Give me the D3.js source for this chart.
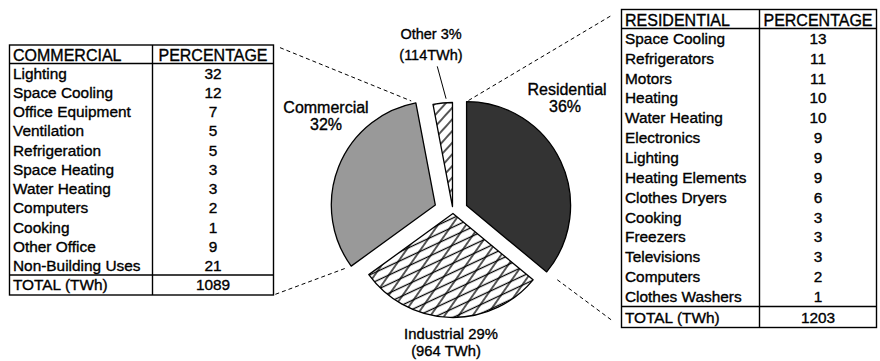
<!DOCTYPE html>
<html><head><meta charset="utf-8">
<script src="https://cdn.jsdelivr.net/npm/d3@7"></script>
<style>body{margin:0;background:#fff}svg{display:block;font-family:"Liberation Sans",Arial,Helvetica,sans-serif}
text{fill:#000;stroke:#000;stroke-width:0.35px}</style>
</head><body><svg id="c" width="880" height="361"></svg>
<script>
// ---------- data ----------
const sectors = ["Residential", "Industrial", "Commercial", "Other"];
const sectorShares = [36, 29, 32, 3];
const industrialTWh = 964;
const otherTWh = 114;

const commercialUses = ["Lighting", "Space Cooling", "Office Equipment", "Ventilation", "Refrigeration",
  "Space Heating", "Water Heating", "Computers", "Cooking", "Other Office", "Non-Building Uses"];
const commercialPct = [32, 12, 7, 5, 5, 3, 3, 2, 1, 9, 21];
const commercialTotal = 1089;

const residentialUses = ["Space Cooling", "Refrigerators", "Motors", "Heating", "Water Heating", "Electronics",
  "Lighting", "Heating Elements", "Clothes Dryers", "Cooking", "Freezers", "Televisions", "Computers", "Clothes Washers"];
const residentialPct = [13, 11, 11, 10, 10, 9, 9, 9, 6, 3, 3, 3, 2, 1];
const residentialTotal = 1203;

// ---------- layout / style ----------
const svg = d3.select("#c");
const C = [453, 212], R = 104;
const explode = [15, 1.5, 19, 5.5];
const baseFill = ["#333333", "#ffffff", "#999999", "#ffffff"];
const hatch = [[], ["indA", "indB"], [], ["othA"]];

const defs = svg.append("defs");
function linePattern(id, spacing, angle, w) {
  const p = defs.append("pattern").attr("id", id).attr("patternUnits", "userSpaceOnUse")
    .attr("width", 20).attr("height", spacing).attr("patternTransform", `rotate(${angle})`);
  p.append("line").attr("x1", -1).attr("x2", 21).attr("y1", spacing / 2).attr("y2", spacing / 2)
    .attr("stroke", "#000").attr("stroke-width", w);
}
linePattern("indA", 8.2, -25, 1.3);
linePattern("indB", 11.5, -55, 1.3);
linePattern("othA", 7.8, -48, 1.3);

const pie = d3.pie().sort(null).value(d => d);
const arcs = pie(sectorShares);
const arcGen = d3.arc().innerRadius(0).outerRadius(R);
function apex(i) {
  const a = arcs[i], m = (a.startAngle + a.endAngle) / 2;
  return [C[0] + explode[i] * Math.sin(m), C[1] - explode[i] * Math.cos(m)];
}
function pt(i, ang, rad) {
  const p = apex(i);
  return [p[0] + rad * Math.sin(ang), p[1] - rad * Math.cos(ang)];
}

const pieG = svg.append("g");
arcs.forEach((a, i) => {
  const g = pieG.append("g").attr("transform", `translate(${apex(i)})`);
  g.append("path").attr("d", arcGen(a)).attr("fill", baseFill[i]);
  hatch[i].forEach(h => g.append("path").attr("d", arcGen(a)).attr("fill", `url(#${h})`));
  g.append("path").attr("d", arcGen(a)).attr("fill", "none").attr("stroke", "#000")
    .attr("stroke-width", 1.3).attr("stroke-linejoin", "round");
});

// ---------- tables ----------
function drawTable(o) {
  const g = svg.append("g");
  const n = o.items.length;
  const rowH = (o.totalLine - o.headLine) / n;
  const vx = (o.xDiv + o.x1) / 2;
  const lw = 1.4;
  g.append("rect").attr("x", o.x0).attr("y", o.top).attr("width", o.x1 - o.x0).attr("height", o.bottom - o.top)
    .attr("fill", "#fff").attr("stroke", "#000").attr("stroke-width", lw);
  g.append("line").attr("x1", o.xDiv).attr("x2", o.xDiv).attr("y1", o.top).attr("y2", o.bottom)
    .attr("stroke", "#000").attr("stroke-width", lw);
  [o.headLine, o.totalLine].forEach(y => g.append("line").attr("x1", o.x0).attr("x2", o.x1)
    .attr("y1", y).attr("y2", y).attr("stroke", "#000").attr("stroke-width", lw));
  const fs = "15.4px";
  g.append("text").attr("x", o.x0 + 3.5).attr("y", o.headLine - o.headOff).attr("font-size", "16px").text(o.title);
  g.append("text").attr("x", vx).attr("y", o.headLine - o.headOff).attr("font-size", "16px")
    .attr("text-anchor", "middle").text("PERCENTAGE");
  o.items.forEach((t, k) => {
    const yb = o.headLine + rowH * (k + 1) - o.off;
    g.append("text").attr("x", o.x0 + 3.5).attr("y", yb).attr("font-size", fs).text(t);
    g.append("text").attr("x", vx).attr("y", yb).attr("font-size", fs).attr("text-anchor", "middle").text(o.values[k]);
  });
  const yt = o.bottom - o.totalOff;
  g.append("text").attr("x", o.x0 + 3.5).attr("y", yt).attr("font-size", fs).text("TOTAL (TWh)");
  g.append("text").attr("x", vx).attr("y", yt).attr("font-size", fs).attr("text-anchor", "middle").text(o.total);
}
const comT = { x0: 9.5, x1: 273.5, xDiv: 152.5, top: 45, headLine: 63.5, totalLine: 275, bottom: 295,
  title: "COMMERCIAL", items: commercialUses, values: commercialPct, total: commercialTotal, headOff: 2.8, off: 4, totalOff: 5.5 };
const resT = { x0: 621.5, x1: 876.5, xDiv: 759.5, top: 9.5, headLine: 28.5, totalLine: 306.5, bottom: 327.5,
  title: "RESIDENTIAL", items: residentialUses, values: residentialPct, total: residentialTotal, headOff: 3, off: 4.5, totalOff: 5 };
drawTable(comT);
drawTable(resT);

// ---------- dashed connectors ----------
function dashed(p, q, trimP, trimQ) {
  const dx = q[0] - p[0], dy = q[1] - p[1], L = Math.hypot(dx, dy);
  const ux = dx / L, uy = dy / L;
  svg.append("line").attr("x1", p[0] + ux * trimP).attr("y1", p[1] + uy * trimP)
    .attr("x2", q[0] - ux * trimQ).attr("y2", q[1] - uy * trimQ)
    .attr("stroke", "#000").attr("stroke-width", 1).attr("stroke-dasharray", "4,3");
}
const aC = arcs[2], aR = arcs[0];
dashed([comT.x1, comT.top], pt(2, aC.endAngle, R), 7, 5);
dashed([comT.x1, comT.bottom], pt(2, aC.startAngle, R), 2, 4);
dashed([resT.x0, resT.top], pt(0, aR.startAngle, R), 13, 0);
dashed([resT.x0, resT.bottom], pt(0, aR.endAngle, R), 13, 13);

// ---------- labels ----------
function label(lines, x, size) {
  lines.forEach(([t, y, dx]) => svg.append("text").attr("x", x + (dx || 0)).attr("y", y)
    .attr("font-size", size).attr("text-anchor", "middle").text(t));
}
label([[sectors[2], 113], [sectorShares[2] + "%", 130]], 326, "16px");
label([[sectors[0], 95], [sectorShares[0] + "%", 112, -2]], 567, "16px");
label([[`${sectors[3]} ${sectorShares[3]}%`, 38.5], [`(${otherTWh}TWh)`, 59.5]], 431, "14.5px");
label([[`${sectors[1]} ${sectorShares[1]}%`, 338.7], [`(${industrialTWh} TWh)`, 355.5, -5]], 451, "14.8px");

// leader for Other
const deg = Math.PI / 180;
const l1 = pt(3, 353.8 * deg, 141), l2 = pt(3, 356.6 * deg, 108);
svg.append("line").attr("x1", l1[0]).attr("y1", l1[1]).attr("x2", l2[0]).attr("y2", l2[1])
  .attr("stroke", "#000").attr("stroke-width", 1);
</script></body></html>
